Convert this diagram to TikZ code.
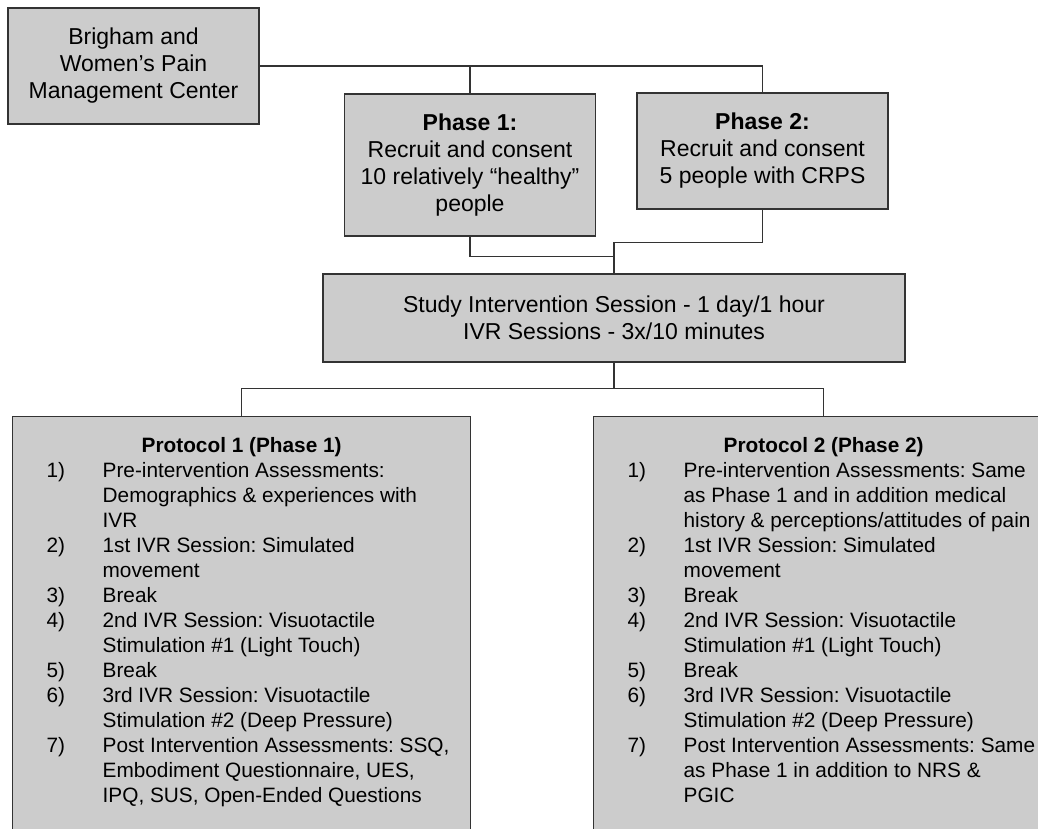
\documentclass[tikz,border=0pt]{standalone}
\usepackage{fontspec}
\setmainfont{Liberation Sans}
\usepackage{tikz}
\definecolor{boxFill}{HTML}{CCCCCC}
\definecolor{lineGray}{HTML}{333333}
\newlength{\pxl}
\setlength{\pxl}{0.75pt}
\frenchspacing
\newcommand{\bigText}{\fontsize{17.25}{20.25}\selectfont}
\newcommand{\listText}{\fontsize{15.6}{18.75}\selectfont}
\newcommand{\pItem}[2]{\par\hangindent=56\pxl\hangafter=1\noindent\makebox[56\pxl][l]{#1}{\let\\\newline #2}}
\tikzstyle{stage} = [rectangle, text centered, align = center, font = \bigText, fill = boxFill, draw = lineGray, line width = 1pt, minimum width = 188.25pt]
\tikzstyle{protocol} = [rectangle, fill = boxFill, draw = lineGray, line width = 1pt, inner sep = 0pt, anchor = north west]
\tikzstyle{link} = [draw = lineGray, line width = 0.9pt]

\begin{document}
\begin{tikzpicture}[x = 0.75pt, y = -0.75pt]
    \useasboundingbox (0,0) rectangle (1038,828);
    \fill [white] (0,0) rectangle (1038,828);
    \clip (0,0) rectangle (1038,828);

    \node (brighamBox) [stage, minimum height = 87pt] at (133.5,66) {Brigham and\\Women’s Pain\\Management Center};
    \node (phaseOne) [stage, minimum height = 106.5pt] at (470,165) {\textbf{Phase 1:}\\Recruit and consent\\10 relatively “healthy”\\people};
    \node (phaseTwo) [stage, minimum height = 87pt] at (762.5,151) {\textbf{Phase 2:}\\Recruit and consent\\5 people with CRPS};
    \node (studySession) [stage, minimum width = 436.5pt, minimum height = 66pt] at (614,318) {Study Intervention Session - 1 day/1 hour\\IVR Sessions - 3x/10 minutes};

    \node (protocolOne) [protocol] at (12,416) {\parbox[t][440\pxl][t]{458\pxl}{\listText
        \centering\rule{0pt}{36\pxl}\textbf{Protocol 1 (Phase 1)}\par
        \raggedright\leftskip=34\pxl
        \pItem{1)}{Pre-intervention Assessments:\\Demographics \& experiences with\\IVR}
        \pItem{2)}{1st IVR Session: Simulated\\movement}
        \pItem{3)}{Break}
        \pItem{4)}{2nd IVR Session: Visuotactile\\Stimulation \#1 (Light Touch)}
        \pItem{5)}{Break}
        \pItem{6)}{3rd IVR Session: Visuotactile\\Stimulation \#2 (Deep Pressure)}
        \pItem{7)}{Post Intervention Assessments: SSQ,\\Embodiment Questionnaire, UES,\\IPQ, SUS, Open-Ended Questions}\par}};
    \node (protocolTwo) [protocol] at (593,416) {\parbox[t][440\pxl][t]{460\pxl}{\listText
        \centering\rule{0pt}{36\pxl}\textbf{Protocol 2 (Phase 2)}\par
        \raggedright\leftskip=34\pxl
        \pItem{1)}{Pre-intervention Assessments: Same\\as Phase 1 and in addition medical\\history \& perceptions/attitudes of pain}
        \pItem{2)}{1st IVR Session: Simulated\\movement}
        \pItem{3)}{Break}
        \pItem{4)}{2nd IVR Session: Visuotactile\\Stimulation \#1 (Light Touch)}
        \pItem{5)}{Break}
        \pItem{6)}{3rd IVR Session: Visuotactile\\Stimulation \#2 (Deep Pressure)}
        \pItem{7)}{Post Intervention Assessments: Same\\as Phase 1 in addition to NRS \&\\PGIC}\par}};

    % connectors
    \draw [link] (brighamBox.east) -| (phaseTwo.north);
    \draw [link] (phaseOne.north) -- (phaseOne.north |- brighamBox.east);
    \draw [link] (phaseOne.south) -- ++(0,20) -| (studySession.north);
    \draw [link] (phaseTwo.south) -- ++(0,33) -| (studySession.north);
    \draw [link] (studySession.south) -- ++(0,26) -| (protocolOne.north);
    \draw [link] (studySession.south) -- ++(0,26) -| (protocolTwo.north);
\end{tikzpicture}
\end{document}
